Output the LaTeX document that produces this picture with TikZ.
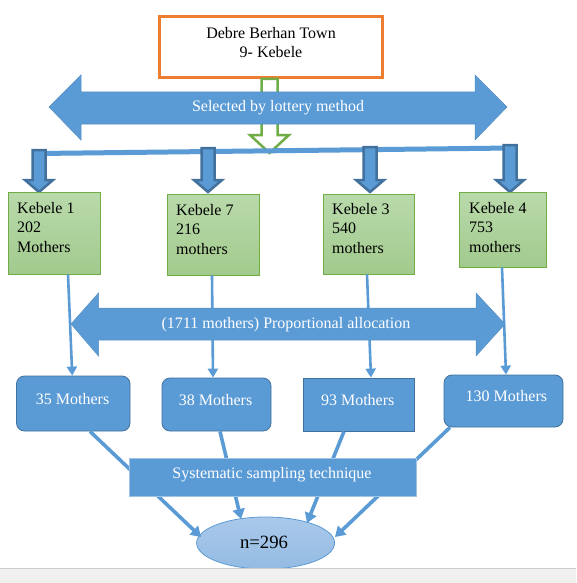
\documentclass[tikz,border=0pt]{standalone}
\usepackage{fontspec}
\setmainfont{Liberation Serif}
\usetikzlibrary{shapes.geometric,arrows.meta,calc}
\definecolor{mblue}{HTML}{5B9BD5}
\definecolor{dblue}{HTML}{41719C}
\definecolor{ggreen}{HTML}{70AD47}
\definecolor{gtop}{HTML}{B9DAAB}
\definecolor{gbot}{HTML}{A2CA8D}
\definecolor{orng}{HTML}{ED7D31}
\definecolor{etop}{HTML}{AAC9EA}
\definecolor{ebot}{HTML}{94BBE3}
\definecolor{sysborder}{HTML}{9DC3E6}
\newcommand{\kebtext}[3]{\vtop{\hbox{#1}\hbox{#2}\hbox{#3}}}
\newcommand{\blockdown}[2]{\filldraw[fill=mblue, draw=dblue, line width=2.5pt, line join=miter] (#1-6.5,#2) -- (#1+6.5,#2) -- (#1+6.5,180) -- (#1+14,180) -- (#1,192) -- (#1-14,180) -- (#1-6.5,180) -- cycle;}
\begin{document}
\begin{tikzpicture}[x=1pt,y=-1pt,
  txt/.style={font=\fontsize{16}{19.5}\selectfont, inner sep=0pt},
  wtxt/.style={txt, text=white},
  gbox/.style={draw=ggreen, line width=0.8pt, top color=gtop, bottom color=gbot, inner sep=0pt},
  bbox/.style={draw=dblue, line width=0.8pt, fill=mblue, inner sep=0pt},
  bigarrow/.style={fill=mblue, draw=mblue!92!black, line width=0.5pt},
  thinarrow/.style={draw=mblue, line width=2.6pt, -{Triangle[width=10pt,length=9pt]}},
  diagarrow/.style={draw=mblue, line width=3.6pt, -{Triangle[width=12pt,length=10pt]}}]
\useasboundingbox (0,0) rectangle (576,583);
\fill[white] (0,0) rectangle (576,583);

% top box
\node[draw=orng, line width=3pt, minimum width=223pt, minimum height=61pt, inner sep=0pt] (town) at (271,47) {};
\node[txt, anchor=base] (townA) at (271,39) {Debre Berhan Town};
\node[txt, anchor=base] (townB) at (271,58) {9- Kebele};

% green hollow arrow
\draw[ggreen, line width=2.5pt, fill=white, line join=miter] (261.5,79) -- (277.5,79) -- (277.5,135) -- (289,135) -- (269.5,153) -- (250,135) -- (261.5,135) -- cycle;

% lottery double arrow
\filldraw[bigarrow] (49,107) -- (81,75) -- (81,92) -- (475,92) -- (475,75) -- (507,107) -- (475,140) -- (475,124) -- (81,124) -- (81,140) -- cycle;
\node[wtxt, anchor=base] (lottery) at (278,112) {Selected by lottery method};

% horizontal line
\coordinate (hl) at (39,153.5);
\coordinate (hr) at (512,148);
\draw[mblue, line width=5pt] (hl) -- (hr);

\blockdown{39}{150}
\blockdown{208}{148}
\blockdown{370}{147}
\blockdown{510}{145}

% kebele boxes
\node[gbox, minimum width=92pt, minimum height=82pt] (k1) at (54,233) {};
\node[gbox, minimum width=92pt, minimum height=81pt] (k7) at (213,234.5) {};
\node[gbox, minimum width=91pt, minimum height=80pt] (k3) at (368.5,234) {};
\node[gbox, minimum width=87pt, minimum height=75pt] (k4) at (502.5,229.5) {};
\node[txt, anchor=base west] (k1t) at (17,213) {\kebtext{Kebele 1}{202}{Mothers}};
\node[txt, anchor=base west] (k7t) at (176,215) {\kebtext{Kebele 7}{216}{mothers}};
\node[txt, anchor=base west] (k3t) at (332,214) {\kebtext{Kebele 3}{540}{mothers}};
\node[txt, anchor=base west] (k4t) at (469,213) {\kebtext{Kebele 4}{753}{mothers}};

% sample boxes
\node[bbox, rounded corners=8pt, minimum width=113.5pt, minimum height=55pt] (b1) at (73.25,403.5) {};
\node[bbox, rounded corners=8pt, minimum width=109pt, minimum height=53pt] (b2) at (216.5,404.5) {};
\node[bbox, minimum width=111pt, minimum height=53pt] (b3) at (358.5,404.5) {};
\node[bbox, rounded corners=8pt, minimum width=119pt, minimum height=52pt] (b4) at (503.5,401) {};
\node[wtxt, anchor=base] (b1t) at (72.6,404) {35 Mothers};
\node[wtxt, anchor=base] (b2t) at (215.6,405) {38 Mothers};
\node[wtxt, anchor=base] (b3t) at (357.7,405) {93 Mothers};
\node[wtxt, anchor=base] (b4t) at (506.4,401) {130 Mothers};

% thin arrows
\draw[thinarrow] ([xshift=14pt]k1.south) -- ([xshift=-1pt]b1.north);
\draw[thinarrow] ([xshift=-1pt]k7.south) -- ([xshift=-3.5pt]b2.north);
\draw[thinarrow] ([xshift=-1.5pt]k3.south) -- ([xshift=12.5pt]b3.north);
\draw[thinarrow] ([xshift=-0.5pt]k4.south) -- ([xshift=2.5pt]b4.north);

% allocation double arrow
\filldraw[bigarrow] (71,324) -- (98.5,293) -- (98.5,308) -- (476,308) -- (476,293) -- (505,324) -- (476,356) -- (476,340) -- (98.5,340) -- (98.5,356) -- cycle;
\node[wtxt, anchor=base] (alloc) at (286,328.5) {(1711 mothers) Proportional allocation};

% ellipse
\node[ellipse, draw=mblue, line width=0.8pt, top color=etop, bottom color=ebot, minimum width=138pt, minimum height=52pt, inner sep=0pt] (n) at (265.6,543) {};
\node[font=\fontsize{18.7}{22}\selectfont, inner sep=0pt, anchor=base] (nt) at (264,548) {n=296};

% diagonal arrows
\draw[diagarrow] ([xshift=16.75pt]b1.south) -- ([shift={(-64.6,-6)}]n.center);
\draw[diagarrow] ([xshift=3.5pt]b2.south) -- ([shift={(-24.6,-24)}]n.center);
\draw[diagarrow] ([xshift=-14.5pt]b3.south) -- ([shift={(41.4,-20)}]n.center);
\draw[diagarrow] ([xshift=-53.5pt]b4.south) -- ([shift={(69.4,-6)}]n.center);

% systematic box
\node[draw=sysborder, line width=1pt, fill=mblue, minimum width=287pt, minimum height=38pt, inner sep=0pt] (sys) at (272.5,477) {};
\node[wtxt, anchor=base] (syst) at (272,478) {Systematic sampling technique};

% bottom bar
\fill[black!6] (0,568) rectangle (576,583);
\draw[black!20, line width=0.8pt] (0,568) -- (576,568);
\end{tikzpicture}
\end{document}
